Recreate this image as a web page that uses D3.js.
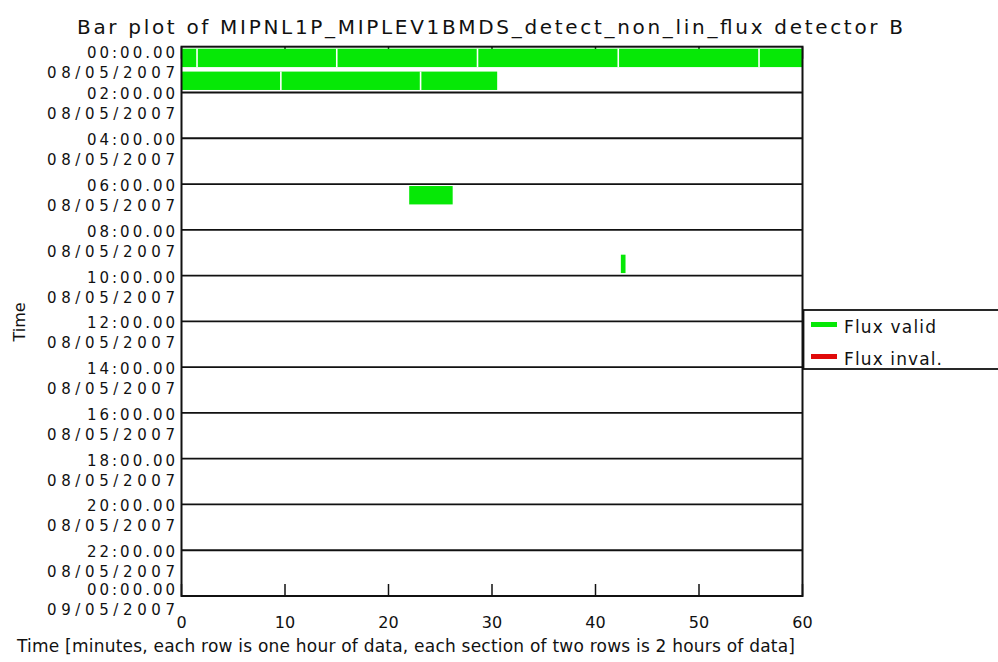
<!DOCTYPE html>
<html>
<head>
<meta charset="utf-8">
<script src="https://cdn.jsdelivr.net/npm/d3@7"></script>
<style>
  html, body { margin: 0; padding: 0; background: #fff; }
  svg { display: block; }
  text { font-family: "DejaVu Sans", sans-serif; fill: #111; }
</style>
</head>
<body>
<div id="chart"></div>
<script>
// ---- data ----
const titleText = "Bar plot of MIPNL1P_MIPLEV1BMDS_detect_non_lin_flux detector B";
const xTitleText = "Time [minutes, each row is one hour of data, each section of two rows is 2 hours of data]";
const yTitleText = "Time";
const xTicks = [0, 10, 20, 30, 40, 50, 60];
const sectionHours = [0, 2, 4, 6, 8, 10, 12, 14, 16, 18, 20, 22, 24];
const sectionTimeLabels = ["00:00.00","02:00.00","04:00.00","06:00.00","08:00.00","10:00.00","12:00.00","14:00.00","16:00.00","18:00.00","20:00.00","22:00.00","00:00.00"];
const sectionDateLabels = ["08/05/2007","08/05/2007","08/05/2007","08/05/2007","08/05/2007","08/05/2007","08/05/2007","08/05/2007","08/05/2007","08/05/2007","08/05/2007","08/05/2007","09/05/2007"];
// valid flux segments: hour row, start minute, end minute
const validRows   = [0, 0, 0, 0, 0, 0, 1, 1, 1, 6, 9];
const validStarts = [0, 1.5, 15.0, 28.6, 42.2, 55.8, 0, 9.6, 23.1, 22.0, 42.45];
const validEnds   = [1.5, 15.0, 28.6, 42.2, 55.8, 60, 9.6, 23.1, 30.5, 26.2, 42.9];
// invalid flux segments (none in this plot)
const invalidRows = [];
const invalidStarts = [];
const invalidEnds = [];
const legendLabels = ["Flux valid", "Flux inval."];
const legendColors = ["#06e806", "#e00a0a"];

// ---- layout ----
const W = 998, H = 662;
const svg = d3.select("#chart").append("svg").attr("width", W).attr("height", H);
svg.append("rect").attr("width", W).attr("height", H).attr("fill", "#fff");

const x = d3.scaleLinear().domain([0, 60]).range([181.5, 802.5]);
const y = d3.scaleLinear().domain([0, 24]).range([46.7, 596]);

// top ticks (drawn first so bars cover them)
svg.append("g").selectAll("line").data(xTicks).join("line")
  .attr("x1", d => x(d)).attr("x2", d => x(d))
  .attr("y1", y(0)).attr("y2", y(0) + 12)
  .attr("stroke", "#111").attr("stroke-width", 1.5);

// bars
function segs(rows, starts, ends, color) {
  return rows.map((r, i) => ({ row: r, s: starts[i], e: ends[i], color }));
}
const allSegs = segs(validRows, validStarts, validEnds, legendColors[0])
  .concat(segs(invalidRows, invalidStarts, invalidEnds, legendColors[1]));

svg.append("g").selectAll("rect").data(allSegs).join("rect")
  .attr("x", d => x(d.s))
  .attr("width", d => Math.max(1, x(d.e) - x(d.s)))
  .attr("y", d => y(d.row) + 2)
  .attr("height", d => y(d.row + 1) - y(d.row) - 4.5)
  .attr("fill", d => d.color);

// white separators where segments adjoin
const joins = allSegs.filter(a => allSegs.some(b => b.row === a.row && b.s === a.e));
svg.append("g").selectAll("line").data(joins).join("line")
  .attr("x1", d => x(d.e)).attr("x2", d => x(d.e))
  .attr("y1", d => y(d.row) + 2).attr("y2", d => y(d.row + 1) - 2.5)
  .attr("stroke", "#fff").attr("stroke-width", 1.6);

// section separator lines
svg.append("g").selectAll("line").data(sectionHours.slice(1, -1)).join("line")
  .attr("x1", x(0)).attr("x2", x(60))
  .attr("y1", d => y(d)).attr("y2", d => y(d))
  .attr("stroke", "#111").attr("stroke-width", 1.8);

// frame
svg.append("rect")
  .attr("x", x(0)).attr("y", y(0))
  .attr("width", x(60) - x(0)).attr("height", y(24) - y(0))
  .attr("fill", "none").attr("stroke", "#111").attr("stroke-width", 2);

// bottom ticks
svg.append("g").selectAll("line").data(xTicks).join("line")
  .attr("x1", d => x(d)).attr("x2", d => x(d))
  .attr("y1", y(24)).attr("y2", y(24) - 12)
  .attr("stroke", "#111").attr("stroke-width", 1.5);

// x tick labels
svg.append("g").selectAll("text").data(xTicks).join("text")
  .attr("x", d => x(d)).attr("y", 628)
  .attr("text-anchor", "middle").attr("font-size", 16)
  .text(d => d);

// y labels (two lines per section)
const yl = svg.append("g");
sectionHours.forEach((h, i) => {
  const base = Math.max(y(0) + 11.3, Math.min(y(24) - 1, y(h) + 7));
  yl.append("text").attr("x", 175).attr("y", base)
    .attr("text-anchor", "end").attr("font-size", 15)
    .attr("textLength", 88).attr("lengthAdjust", "spacing")
    .text(sectionTimeLabels[i]);
  yl.append("text").attr("x", 175).attr("y", base + 20)
    .attr("text-anchor", "end").attr("font-size", 15)
    .attr("textLength", 128).attr("lengthAdjust", "spacing")
    .text(sectionDateLabels[i]);
});

// title
svg.append("text").attr("x", 77).attr("y", 34)
  .attr("font-size", 20).attr("textLength", 826).attr("lengthAdjust", "spacing")
  .text(titleText);

// x title
svg.append("text").attr("x", 17).attr("y", 652)
  .attr("font-size", 17).attr("textLength", 778).attr("lengthAdjust", "spacing")
  .text(xTitleText);

// y title
svg.append("text").attr("transform", "translate(25,322) rotate(-90)")
  .attr("text-anchor", "middle").attr("font-size", 16)
  .text(yTitleText);

// legend
const lg = svg.append("g");
lg.append("rect").attr("x", 803.5).attr("y", 310).attr("width", 230).attr("height", 59)
  .attr("fill", "#fff").attr("stroke", "#111").attr("stroke-width", 1.8);
legendLabels.forEach((lab, i) => {
  const cy = 324.5 + i * 32;
  lg.append("rect").attr("x", 811).attr("y", cy - 2.5).attr("width", 26).attr("height", 5)
    .attr("fill", legendColors[i]);
  lg.append("text").attr("x", 844).attr("y", cy + 8.5)
    .attr("font-size", 17).attr("textLength", i === 0 ? 92 : 98).attr("lengthAdjust", "spacing")
    .text(lab);
});
</script>
</body>
</html>
